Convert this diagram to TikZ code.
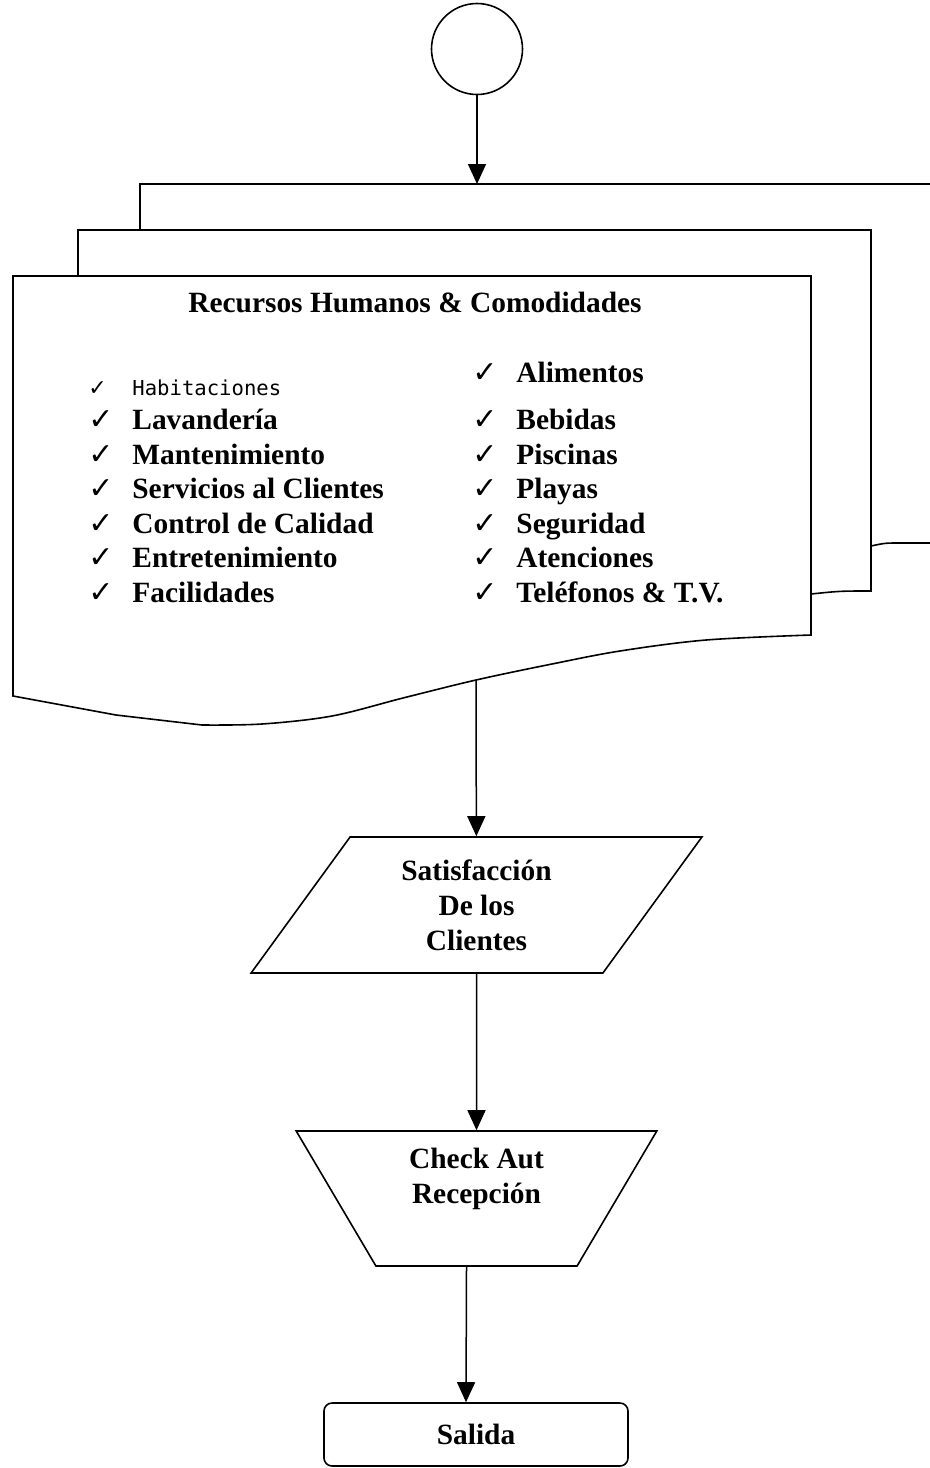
\documentclass[tikz,border=0pt]{standalone}
\usepackage{fontspec}
\setmainfont{Liberation Serif}
\newfontfamily\symfont{DejaVu Sans}
\newfontfamily\habfont{DejaVu Sans Mono}
\usetikzlibrary{shapes.geometric,arrows.meta}
\newcommand{\chk}[1][15]{\makebox[22pt][l]{\symfont\fontsize{#1}{#1}\selectfont\bfseries ✓}}

\begin{document}
\begin{tikzpicture}[x=0.5pt, y=-0.5pt,
  page/.style={draw, fill=white, line width=0.8pt},
  txt/.style={font=\fontsize{14.7}{17.4}\selectfont\bfseries, align=center,
               inner sep=0pt},
  item/.style={font=\fontsize{14.7}{17.4}\selectfont\bfseries,
               anchor=base west, inner sep=0pt},
  startc/.style={draw, circle, line width=0.8pt, minimum size=45.5pt,
               inner sep=0pt},
  inout/.style={draw, trapezium, trapezium left angle=57,
               trapezium right angle=123, trapezium stretches=true,
               minimum width=225.5pt, minimum height=68pt,
               line width=0.8pt, txt},
  manual/.style={draw, trapezium, trapezium left angle=118,
               trapezium right angle=118, trapezium stretches=true,
               minimum width=180.5pt, minimum height=67.5pt,
               line width=0.8pt, txt},
  term/.style={draw, rounded corners=4pt, minimum width=152pt,
               minimum height=31.5pt, line width=0.8pt, txt},
  flow/.style={line width=0.75pt, -{Triangle[length=10pt, width=9pt]}},
]
\useasboundingbox (0,0) rectangle (930,1468);
\clip (0,0) rectangle (930,1468);

% Start circle.
\node[startc] (start) at (477,49) {};

% Stack of three pages (back to front, white fill hides the rest).
\draw[page] (140,184) -- (975,184) -- (975,543) -- (900,543)
  .. controls (885,543) .. (871,546) -- (140,546) -- cycle;
\draw[page] (78,230) -- (871,230) -- (871,591)
  .. controls (840,591) .. (811,594) -- (78,594) -- cycle;
\draw[page] (13,276) -- (811,276)
  -- plot[smooth, tension=0.55] coordinates {(811,635) (706,640) (620,651)
    (552,664) (476,680) (403,698) (332,716) (262,724) (202,725)}
  -- (116,715) -- (13,696) -- cycle;
\coordinate (stacktop) at (477,184);
\coordinate (stackbot) at (476,680);

% Page contents.
\node[txt] (rrhh) at (415,302) {Recursos Humanos \& Comodidades};

\node[item] (hab) at (88,395) {\chk[11]{\habfont\mdseries\fontsize{10.3}{12}\selectfont Habitaciones}};
\node[item] (lav) at (88,429) {\chk Lavandería};
\node[item] (man) at (88,464) {\chk Mantenimiento};
\node[item] (ser) at (88,498) {\chk Servicios al Clientes};
\node[item] (cal) at (88,533) {\chk Control de Calidad};
\node[item] (ent) at (88,567) {\chk Entretenimiento};
\node[item] (fac) at (88,602) {\chk Facilidades};

\node[item] (ali) at (472,382) {\chk Alimentos};
\node[item] (beb) at (472,429) {\chk Bebidas};
\node[item] (pis) at (472,464) {\chk Piscinas};
\node[item] (pla) at (472,498) {\chk Playas};
\node[item] (seg) at (472,533) {\chk Seguridad};
\node[item] (ate) at (472,567) {\chk Atenciones};
\node[item] (tel) at (472,602) {\chk Teléfonos \& T.V.};

% Flow below the stack.
\node[inout] (sat) at (476.5,905) {Satisfacción\\ De los\\ Clientes};
\node[manual] (chk) at (476.5,1198.5) {Check Aut\\ Recepción\\ \strut};
\node[term] (sal) at (476,1434.5) {Salida};

\draw[flow] (start) -- (stacktop);
\draw[flow] (stackbot) -- (sat);
\draw[flow] (sat) -- (chk);
\draw[flow] ([xshift=-5pt]chk.south) -- ([xshift=-5pt]sal.north);

\end{tikzpicture}
\end{document}
